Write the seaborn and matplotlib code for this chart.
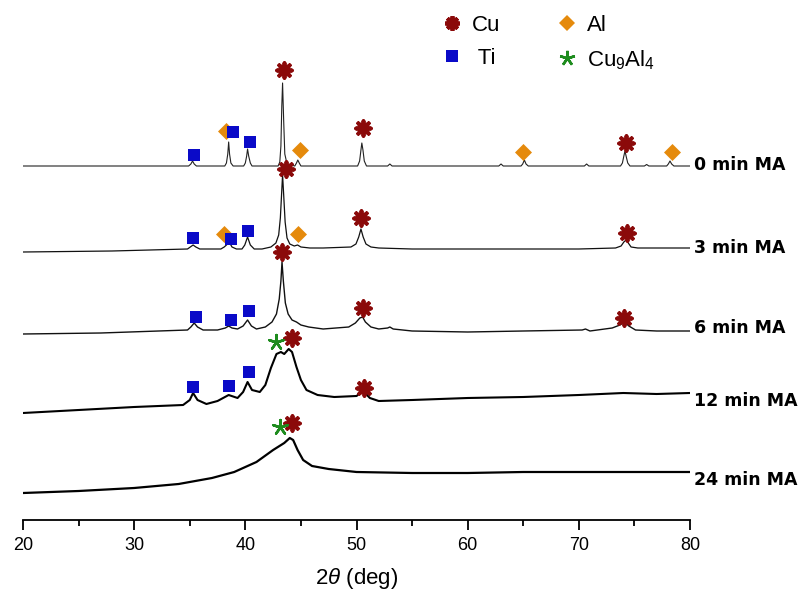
import numpy as np
import pandas as pd
import matplotlib
matplotlib.use("Agg")
import matplotlib.pyplot as plt
from matplotlib.lines import Line2D
import seaborn as sns

# ---------------- data ----------------
# Each pattern: (2theta [deg], intensity above its own baseline [a.u.])
pattern_0min = [(20, 0), (30, 0), (34.9, 0), (35.1, 2), (35.25, 5), (35.4, 2), (35.6, 0),
                (38.15, 0), (38.3, 3), (38.42, 12), (38.5, 24), (38.58, 12), (38.7, 3), (38.9, 0),
                (39.85, 0), (40.0, 3), (40.12, 10), (40.2, 17), (40.3, 10), (40.45, 3), (40.6, 0),
                (42.95, 0), (43.1, 4), (43.2, 20), (43.28, 60), (43.35, 83), (43.45, 45), (43.55, 12),
                (43.75, 2), (44.45, 0), (44.6, 3), (44.72, 6), (44.85, 3), (45.0, 0),
                (50.1, 0), (50.28, 5), (50.4, 16), (50.48, 23), (50.58, 16), (50.7, 5), (50.9, 0),
                (52.8, 0), (53.0, 2), (53.2, 0), (62.8, 0), (63.0, 2), (63.2, 0),
                (64.8, 0), (64.95, 2), (65.1, 6), (65.25, 2), (65.45, 0),
                (70.5, 0), (70.7, 2), (70.9, 0),
                (73.75, 0), (73.92, 3), (74.05, 10), (74.15, 15), (74.25, 10), (74.4, 3), (74.6, 0),
                (75.9, 0), (76.1, 1.5), (76.3, 0),
                (77.9, 0), (78.05, 2), (78.2, 5), (78.35, 2), (78.55, 0), (80, 0)]

pattern_3min = [(20, -2), (28, -1), (34.8, 1), (35.05, 3), (35.3, 5), (35.55, 3), (35.9, 1),
                (37.8, 1), (38.1, 3), (38.3, 5), (38.55, 8), (38.8, 3), (39.2, 1), (39.7, 1),
                (39.95, 5), (40.2, 13), (40.45, 5), (40.8, 1), (41.5, 1), (42.3, 3), (42.75, 7),
                (43.0, 15), (43.15, 32), (43.28, 60), (43.35, 75), (43.45, 55), (43.58, 28),
                (43.75, 12), (44.0, 6), (44.4, 4), (44.7, 5), (45.0, 3), (45.8, 2), (47, 2),
                (49.5, 3), (49.95, 6), (50.2, 13), (50.4, 21), (50.6, 13), (50.85, 6), (51.3, 3),
                (52, 2), (55, 1), (60, 1), (65, 1), (70, 1), (73.3, 2), (73.8, 4), (74.05, 8),
                (74.25, 10), (74.45, 7), (74.7, 3), (75.3, 2), (80, 2)]

pattern_6min = [(20, -3), (27, -2), (34.8, 1), (35.1, 4), (35.4, 8), (35.7, 4), (36.2, 1),
                (37.5, 1), (38.2, 3), (38.5, 5), (38.8, 3), (39.3, 2), (39.8, 5), (40.2, 11),
                (40.55, 5), (41.0, 2), (41.8, 4), (42.4, 9), (42.8, 17), (43.05, 32), (43.2, 50),
                (43.3, 69), (43.42, 50), (43.6, 28), (43.85, 17), (44.2, 11), (44.6, 9), (45.0, 6),
                (45.7, 4), (47, 2), (49.3, 4), (49.9, 8), (50.3, 13), (50.55, 14), (50.8, 9),
                (51.3, 4), (52, 2), (52.8, 3), (53.0, 4), (53.3, 2), (55, 0), (60, -1), (65, 0),
                (70.3, 1), (70.6, 2), (71, 0), (73, 3), (73.7, 6), (74.1, 9), (74.5, 5),
                (75.1, 1), (77, 0), (80, 0)]

pattern_12min = [(20, -13), (25, -10), (30, -7), (34.4, -5), (35.0, 0), (35.3, 7), (35.7, 0),
                 (36.5, -4), (37.5, -1), (38.5, 5), (39.3, 2), (39.8, 8), (40.2, 18), (40.6, 10),
                 (41.3, 8), (41.8, 15), (42.3, 32), (42.8, 46), (43.2, 48), (43.5, 46), (43.9, 51),
                 (44.2, 48), (44.6, 33), (45.0, 20), (45.5, 10), (46.5, 5), (48, 3), (50, 4),
                 (50.6, 9), (51.2, 2), (52, -1), (55, 0), (60, 2), (65, 3), (70, 5), (74, 7),
                 (77, 6), (80, 7)]

pattern_24min = [(20, -19), (25, -17), (30, -14), (34, -10), (37, -4), (39, 2), (41, 12),
                 (42.5, 24), (43.5, 31), (44.0, 36), (44.3, 34), (44.7, 24), (45.2, 14), (46, 8),
                 (47.5, 5), (50, 2), (55, 1), (60, 1), (65, 2), (70, 2), (75, 2), (80, 2)]

pattern_names = ["0 min MA", "3 min MA", "6 min MA", "12 min MA", "24 min MA"]
pattern_offsets = [354, 270, 189, 120, 46]

# Phase markers: (2theta, stacked intensity)
cu_peaks = [(43.45, 450), (50.55, 392), (74.2, 377), (43.65, 351), (50.4, 302), (74.3, 287),
            (43.3, 268), (50.6, 212), (74.1, 202), (44.2, 182), (50.7, 132), (44.2, 97)]
ti_peaks = [(35.4, 365), (38.9, 388), (40.4, 378), (35.3, 282), (38.7, 281), (40.2, 289),
            (35.6, 203), (38.7, 200), (40.3, 209), (35.3, 133), (38.5, 134), (40.3, 148)]
al_peaks = [(38.3, 389), (44.9, 370), (65.0, 368), (78.4, 368), (38.1, 286), (44.7, 286)]
cu9al4_peaks = [(42.8, 178), (43.1, 93)]

x_ticks = [20, 30, 40, 50, 60, 70, 80]

# ---------------- style ----------------
sns.set_style("white")
plt.rcParams["font.family"] = ["Liberation Sans", "DejaVu Sans"]
plt.rcParams["mathtext.fontset"] = "custom"
plt.rcParams["mathtext.rm"] = "Liberation Sans"
plt.rcParams["mathtext.it"] = "Liberation Sans:italic"
plt.rcParams["text.color"] = "black"
plt.rcParams["axes.labelcolor"] = "black"
plt.rcParams["xtick.color"] = "black"
plt.rcParams["xtick.labelcolor"] = "black"

fig = plt.figure(figsize=(8.03, 5.97), dpi=100)
ax = fig.add_axes([23 / 803, 77 / 597, 667 / 803, 520 / 597])

line_widths = [0.8, 0.9, 1.0, 1.5, 1.6]
line_colors = ["#222222", "#111111", "#111111", "#000000", "#000000"]
patterns = [pattern_0min, pattern_3min, pattern_6min, pattern_12min, pattern_24min]

for name, pat, off, lw, lc in zip(pattern_names, patterns, pattern_offsets, line_widths, line_colors):
    df = pd.DataFrame(pat, columns=["two_theta", "intensity"])
    df["y"] = df["intensity"] + off
    sns.lineplot(data=df, x="two_theta", y="y", sort=False, estimator=None,
                 color=lc, linewidth=lw, ax=ax, zorder=2)

marker_specs = [
    ("Al", al_peaks, "D", 75, "#E58A0C", 0),
    ("Ti", ti_peaks, "s", 64, "#0A0AC8", 0),
    ("Cu", cu_peaks, (8, 2, 0), 110, "#8B0A0A", 2.8),
    ("Cu9Al4", cu9al4_peaks, (5, 2, 0), 115, "#1E8C1E", 1.8),
]
for name, pts, mk, size, col, mew in marker_specs:
    dfm = pd.DataFrame(pts, columns=["two_theta", "y"])
    sns.scatterplot(data=dfm, x="two_theta", y="y", marker=mk, s=size, color=col,
                    edgecolor=col, linewidth=mew, ax=ax, zorder=5, legend=False)

# pattern labels on the right
label_dy = [1, 2, 3, -1, -6]
for name, off, dy in zip(pattern_names, pattern_offsets, label_dy):
    ax.text(80.36, off + dy, name, ha="left", va="center", fontsize=12.5,
            fontweight="bold", family="DejaVu Sans", color="black", clip_on=False)

ax.set_xlim(20, 80)
ax.set_ylim(0, 520)
ax.set_yticks([])
ax.set_xticks(x_ticks)
ax.set_xticks(np.arange(25, 80, 10), minor=True)
for s in ["left", "top", "right"]:
    ax.spines[s].set_visible(False)
ax.spines["bottom"].set_linewidth(1.3)
ax.spines["bottom"].set_color("black")
ax.tick_params(axis="x", which="major", direction="out", length=7, width=1.3,
               labelsize=13, pad=5, color="black", labelcolor="black", bottom=True)
ax.tick_params(axis="x", which="minor", direction="out", length=4.5, width=1.3,
               color="black", bottom=True)
ax.set_xlabel(r"2$\it{\theta}$ (deg)", fontsize=16, labelpad=9, color="black")
ax.set_ylabel("")

handles = [
    Line2D([], [], ls="none", marker=(8, 2, 0), ms=10.5, mew=2.8, color="#8B0A0A"),
    Line2D([], [], ls="none", marker="s", ms=8, mew=0, color="#0A0AC8"),
    Line2D([], [], ls="none", marker="D", ms=8.5, mew=0, color="#E58A0C"),
    Line2D([], [], ls="none", marker=(5, 2, 0), ms=11, mew=1.8, color="#1E8C1E"),
]
labels = ["Cu", " Ti", "Al", r"Cu$_9$Al$_4$"]
leg = fig.legend(handles, labels, ncol=2, loc="upper left",
                 bbox_to_anchor=(441 / 803, 1 - 15 / 597),
                 frameon=False, fontsize=16, handlelength=1.0, handletextpad=0.4,
                 columnspacing=2.5, labelspacing=0.55, borderpad=0, borderaxespad=0)
for t in leg.get_texts():
    t.set_color("black")

fig.savefig("out.png", dpi=100)
